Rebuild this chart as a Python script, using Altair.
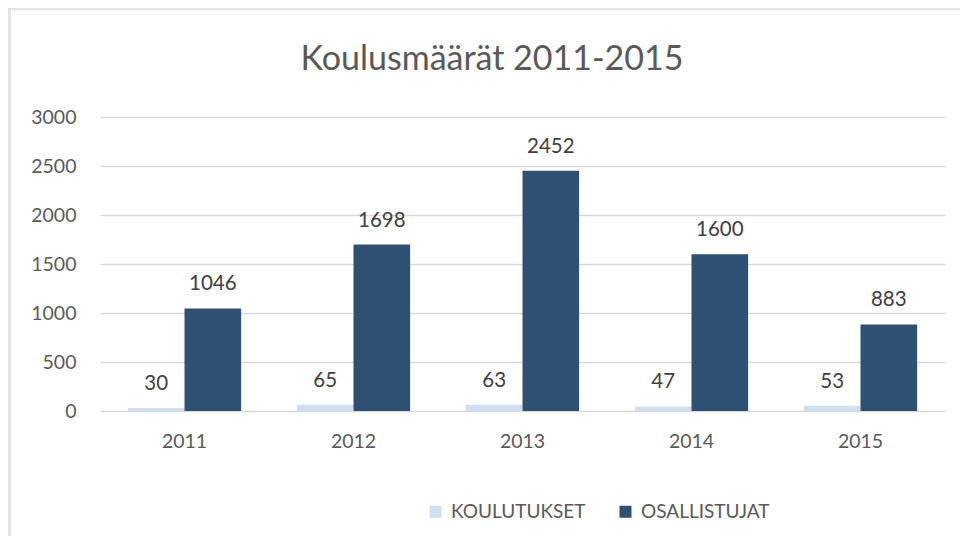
import altair as alt
import pandas as pd

years = ["2011", "2012", "2013", "2014", "2015"]
koulutukset = [30, 65, 63, 47, 53]
osallistujat = [1046, 1698, 2452, 1600, 883]
series_names = ["KOULUTUKSET", "OSALLISTUJAT"]
colors = ["#cfdff1", "#2e5072"]
y_ticks = [0, 500, 1000, 1500, 2000, 2500, 3000]
title_text = "Koulusmäärät 2011-2015"

rows = []
for i, y in enumerate(years):
    rows.append({"year": y, "series": series_names[0], "value": koulutukset[i]})
    rows.append({"year": y, "series": series_names[1], "value": osallistujat[i]})
df = pd.DataFrame(rows)

FONT = "Lato"

base = alt.Chart(df).encode(
    x=alt.X("year:N", sort=years, title=None,
            scale=alt.Scale(paddingInner=0.33, paddingOuter=0.165),
            axis=alt.Axis(labelAngle=0, ticks=False, domain=False, labelFontSize=19.5,
                          labelColor="#595959", labelFont=FONT, labelPadding=21)),
    xOffset=alt.XOffset("series:N", sort=series_names),
    y=alt.Y("value:Q", title=None,
            scale=alt.Scale(domain=[0, 3000]),
            axis=alt.Axis(values=y_ticks, format="d", ticks=False, domain=False,
                          labelFontSize=19.5, labelColor="#595959", labelFont=FONT,
                          labelPadding=24, gridColor="#d9d9d9", gridWidth=1.5)),
)

bars = base.mark_bar().encode(
    color=alt.Color("series:N", sort=series_names,
                    scale=alt.Scale(domain=series_names, range=colors),
                    legend=alt.Legend(title=None, orient="none", direction="horizontal",
                                      legendX=326, legendY=385, symbolType="square",
                                      symbolSize=144, symbolStrokeWidth=0,
                                      labelFontSize=19, labelColor="#595959", labelFont=FONT,
                                      columnPadding=30, labelOffset=6))
)

labels = base.mark_text(dy=-24, fontSize=20.5, color="#404040", font=FONT).encode(
    text=alt.Text("value:Q")
)

single = alt.Chart(pd.DataFrame({"t": [title_text]}))
frame_top = single.mark_rule(color="#e3e3e3", strokeWidth=2.5, clip=False).encode(
    x=alt.value(-92), x2=alt.value(870), y=alt.value(-108)
)
frame_left = single.mark_rule(color="#e3e3e3", strokeWidth=4, clip=False).encode(
    x=alt.value(-91), y=alt.value(-109), y2=alt.value(430)
)
title = single.mark_text(fontSize=34, font=FONT, color="#595959", align="center",
                         baseline="middle", clip=False).encode(
    x=alt.value(392), y=alt.value(-57), text="t:N"
)

chart = alt.layer(frame_top, frame_left, title, bars, labels).properties(
    width=845, height=294,
    background="white",
    autosize=alt.AutoSizeParams(type="none"),
    padding={"left": 92, "top": 109, "right": 15, "bottom": 125},
).configure_view(strokeWidth=0, stroke="transparent")

chart.save("out.html", embed_options={"renderer": "svg", "actions": False})
